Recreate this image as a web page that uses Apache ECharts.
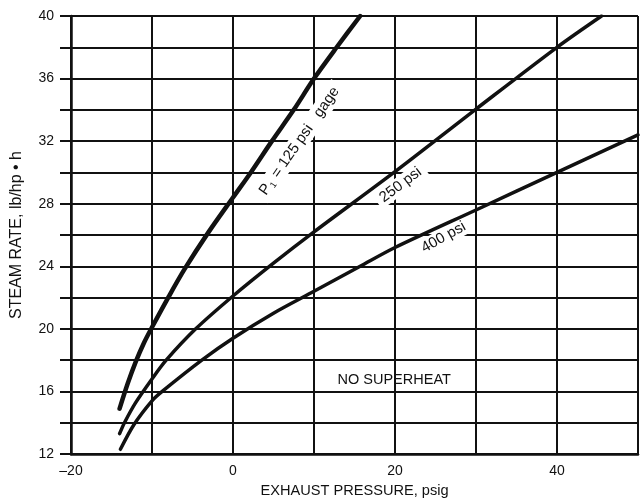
<!DOCTYPE html>
<html>
<head>
<meta charset="utf-8">
<script src="https://cdn.jsdelivr.net/npm/echarts@6/dist/echarts.min.js"></script>
<style>
html,body{margin:0;padding:0;background:#fff;}
#chart{width:641px;height:503px;}
</style>
</head>
<body>
<div id="chart"></div>
<script>
// Data
var xTicks = [-20, 0, 20, 40];
var yTicks = [12, 16, 20, 24, 28, 32, 36, 40];

var x125 = [-14, -13, -12, -11, -10, -8, -6, -3, 0, 2.2, 4.8, 7.5, 10, 12.8, 15.7];
var y125 = [14.9, 16.5, 17.9, 19.1, 20.1, 22, 23.8, 26.2, 28.4, 30, 32, 34, 36, 38, 40];

var x250 = [-14, -13.4, -12, -10, -8.25, -4.6, 0, 5, 10, 20, 30, 40, 45.5];
var y250 = [13.3, 14, 15.3, 16.8, 18, 20, 22.1, 24.2, 26.2, 30.05, 34.05, 38, 40];

var x400 = [-13.9, -12.2, -10, -8.74, -3.85, 0, 5, 10, 15.7, 20, 30, 40, 50];
var y400 = [12.3, 13.9, 15.4, 16, 18, 19.4, 21, 22.4, 24, 25.2, 27.6, 30, 32.4];

var labelTexts = ['{n|P}{sub|1}{n| = 125 psi   gage}', '250 psi', '400 psi', 'NO SUPERHEAT'];
var labelX = [8.2, 20.7, 26.0, 19.9];
var labelY = [32.0, 29.2, 25.85, 16.75];
var labelRot = [55, 37, 29, 0];

function pairs(xs, ys) { return xs.map(function (v, i) { return [v, ys[i]]; }); }

var FONT = "'Liberation Sans', Arial, Helvetica, sans-serif";
var INK = '#111';

var chart = echarts.init(document.getElementById('chart'), null, {renderer: 'canvas'});

function curve(name, xs, ys, w) {
  return {
    name: name, type: 'line', data: pairs(xs, ys), smooth: 0.3,
    showSymbol: false, symbol: 'none', z: 4, clip: true,
    lineStyle: {color: INK, width: w, cap: 'round', join: 'round'}
  };
}

var option = {
  backgroundColor: '#fff',
  animation: false,
  grid: {left: 71, top: 16, width: 572, height: 441, containLabel: false},
  xAxis: {
    type: 'value', min: -20, max: 50, interval: 10,
    name: 'EXHAUST PRESSURE, psig', nameLocation: 'middle', nameGap: 29,
    nameTextStyle: {fontFamily: FONT, fontSize: 14.6, color: INK},
    axisLine: {show: true, onZero: false, lineStyle: {color: INK, width: 2.5}},
    axisTick: {show: false},
    axisLabel: {
      margin: 10, fontFamily: FONT, fontSize: 14, color: INK,
      formatter: function (v) {
        if (xTicks.indexOf(v) < 0) return '';
        return v < 0 ? '\u2013' + Math.abs(v) : String(v);
      }
    },
    splitLine: {show: true, lineStyle: {color: INK, width: 2}}
  },
  yAxis: {
    type: 'value', min: 12, max: 40, interval: 2,
    name: 'STEAM RATE, lb/hp \u2022 h', nameLocation: 'middle', nameGap: 46,
    nameTextStyle: {fontFamily: FONT, fontSize: 16, color: INK},
    axisLine: {show: true, onZero: false, lineStyle: {color: INK, width: 2.5}},
    axisTick: {show: true, inside: false, length: 11, lineStyle: {color: INK, width: 2}},
    axisLabel: {
      margin: 17, fontFamily: FONT, fontSize: 14, color: INK,
      formatter: function (v) { return yTicks.indexOf(v) < 0 ? '' : String(v); }
    },
    splitLine: {show: true, lineStyle: {color: INK, width: 2}}
  },
  series: [
    {
      name: 'labels', type: 'scatter', z: 2, symbolSize: 0, silent: true,
      itemStyle: {opacity: 1},
      emphasis: {disabled: true},
      data: labelTexts.map(function (t, i) {
        return {
          value: [labelX[i], labelY[i]],
          label: {
            show: true, position: 'inside', formatter: t, rotate: labelRot[i],
            fontFamily: FONT, fontSize: i === 3 ? 14.5 : 15, color: INK, opacity: 1,
            backgroundColor: i < 3 ? '#fff' : 'transparent',
            padding: i < 3 ? [1, 5, 1, 5] : 0,
            rich: {
              n: {fontFamily: FONT, fontSize: 15, color: INK},
              sub: {fontFamily: FONT, fontSize: 9, color: INK, verticalAlign: 'bottom', padding: [8, 1, 0, 1]}
            }
          }
        };
      })
    },
    curve('125 psi', x125, y125, 4.5),
    curve('250 psi', x250, y250, 3.5),
    curve('400 psi', x400, y400, 3.5)
  ]
};
chart.setOption(option);
</script>
</body>
</html>
